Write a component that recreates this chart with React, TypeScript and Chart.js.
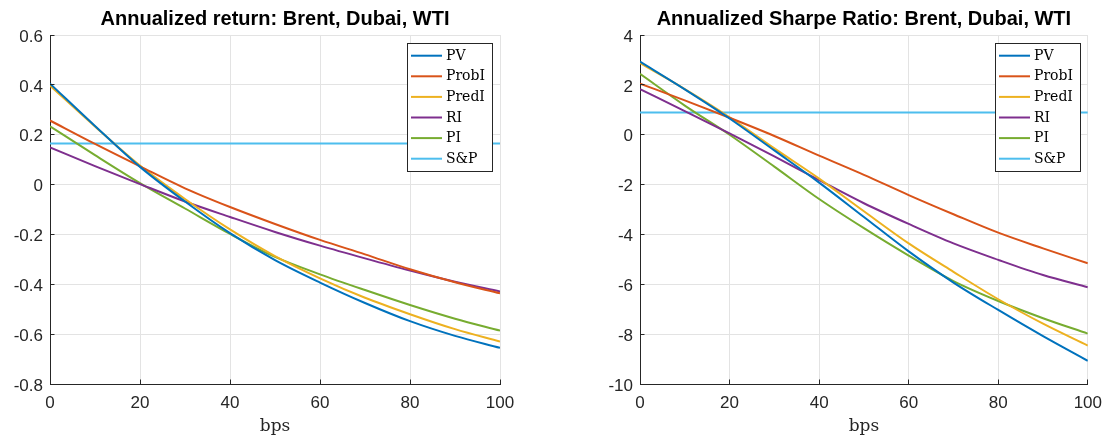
import React, { useEffect, useRef } from "react";
import { Chart, registerables } from "chart.js";

Chart.register(...registerables);

// ---- data ----
const BPS = [0, 10, 20, 30, 40, 50, 60, 70, 80, 90, 100];
const SP_BPS = [0, 100];

const SERIES_LABELS = ["PV", "ProbI", "PredI", "RI", "PI", "S&P"];
const SERIES_COLORS = ["#0072BD", "#D95319", "#EDB120", "#7E2F8E", "#77AC30", "#4DBEEE"];

const RETURN_PV = [0.405, 0.235, 0.071, -0.068, -0.195, -0.303, -0.393, -0.475, -0.548, -0.607, -0.655];
const RETURN_PROBI = [0.257, 0.163, 0.073, -0.015, -0.09, -0.158, -0.222, -0.28, -0.34, -0.392, -0.436];
const RETURN_PREDI = [0.397, 0.233, 0.076, -0.058, -0.18, -0.287, -0.376, -0.454, -0.52, -0.58, -0.63];
const RETURN_RI = [0.149, 0.074, 0.002, -0.068, -0.13, -0.19, -0.245, -0.296, -0.345, -0.39, -0.429];
const RETURN_PI = [0.234, 0.118, 0.006, -0.096, -0.198, -0.29, -0.36, -0.423, -0.483, -0.538, -0.586];
const RETURN_SP = [0.165, 0.165];

const SHARPE_PV = [2.93, 1.82, 0.65, -0.63, -1.92, -3.3, -4.68, -5.93, -7.03, -8.08, -9.07];
const SHARPE_PROBI = [2.05, 1.38, 0.68, -0.05, -0.84, -1.61, -2.42, -3.19, -3.93, -4.56, -5.16];
const SHARPE_PREDI = [2.87, 1.83, 0.7, -0.55, -1.76, -3.07, -4.36, -5.5, -6.6, -7.58, -8.46];
const SHARPE_RI = [1.83, 0.95, 0.05, -0.87, -1.82, -2.75, -3.58, -4.36, -5.02, -5.63, -6.12];
const SHARPE_PI = [2.44, 1.17, 0.0, -1.28, -2.58, -3.75, -4.85, -5.87, -6.67, -7.36, -7.98];
const SHARPE_SP = [0.89, 0.89];

const X_TICKS = [0, 20, 40, 60, 80, 100];
const RETURN_Y_TICKS = [-0.8, -0.6, -0.4, -0.2, 0, 0.2, 0.4, 0.6];
const SHARPE_Y_TICKS = [-10, -8, -6, -4, -2, 0, 2, 4];

const RETURN_TITLE = "Annualized return: Brent, Dubai, WTI";
const SHARPE_TITLE = "Annualized Sharpe Ratio: Brent, Dubai, WTI";
const X_LABEL = "bps";

// ---- styling ----
const SANS = '"Liberation Sans", Arial, Helvetica, sans-serif';
const SERIF = '"DejaVu Serif", "Liberation Serif", serif';
const AXIS_COLOR = "#262626";
const GRID_COLOR = "#e3e3e3";

function align(p: number) {
  return Math.round(p - 0.5) + 0.5;
}

function decorPlugin(title: string) {
  return {
    id: "decor",
    afterDraw(chart: any) {
      const ctx = chart.ctx as CanvasRenderingContext2D;
      const area = chart.chartArea;
      const xs = chart.scales.x;
      const ys = chart.scales.y;
      ctx.save();

      // inward tick marks
      ctx.strokeStyle = AXIS_COLOR;
      ctx.lineWidth = 1;
      ctx.beginPath();
      xs.ticks.forEach((t: any) => {
        const px = align(xs.getPixelForValue(t.value));
        ctx.moveTo(px, area.bottom);
        ctx.lineTo(px, area.bottom - 4.5);
      });
      ys.ticks.forEach((t: any) => {
        const py = align(ys.getPixelForValue(t.value));
        ctx.moveTo(area.left, py);
        ctx.lineTo(area.left + 4.5, py);
      });
      ctx.stroke();

      // title
      ctx.fillStyle = "#000";
      ctx.font = `bold 20px ${SANS}`;
      ctx.textAlign = "center";
      ctx.textBaseline = "alphabetic";
      ctx.fillText(title, (area.left + area.right) / 2, 25);

      // x label
      ctx.fillStyle = AXIS_COLOR;
      ctx.font = `17px ${SERIF}`;
      ctx.fillText(X_LABEL, (area.left + area.right) / 2, 431);

      // legend
      const w = 85;
      const h = 128;
      const bx = Math.round(area.right - 8 - w);
      const by = Math.round(area.top + 8);
      ctx.fillStyle = "#fff";
      ctx.fillRect(bx, by, w, h);
      ctx.strokeStyle = AXIS_COLOR;
      ctx.lineWidth = 1;
      ctx.strokeRect(bx + 0.5, by + 0.5, w, h);
      ctx.font = `14px ${SERIF}`;
      ctx.textAlign = "left";
      ctx.textBaseline = "middle";
      chart.data.datasets.forEach((ds: any, i: number) => {
        const cy = by + 12.7 + i * 20.6;
        ctx.strokeStyle = ds.borderColor;
        ctx.lineWidth = 2;
        ctx.beginPath();
        ctx.moveTo(bx + 4, cy);
        ctx.lineTo(bx + 35, cy);
        ctx.stroke();
        ctx.fillStyle = "#000";
        ctx.fillText(ds.label, bx + 39, cy + 0.5);
      });
      ctx.restore();
    },
  };
}

function makeConfig(
  title: string,
  series: { x: number[]; y: number[] }[],
  yTicks: number[],
  padRight: number
): any {
  const yMin = Math.min(...yTicks);
  const yMax = Math.max(...yTicks);
  const yStep = yTicks[1] - yTicks[0];
  return {
    type: "line",
    data: {
      datasets: series.map((s, i) => ({
        label: SERIES_LABELS[i],
        data: s.x.map((x, j) => ({ x, y: s.y[j] })),
        borderColor: SERIES_COLORS[i],
        backgroundColor: SERIES_COLORS[i],
        borderWidth: 2,
        pointRadius: 0,
        fill: false,
        cubicInterpolationMode: "monotone",
      })),
    },
    options: {
      animation: false,
      responsive: false,
      maintainAspectRatio: false,
      devicePixelRatio: 1,
      events: [],
      layout: { padding: { top: 35, right: padRight, bottom: 0, left: 0 } },
      plugins: {
        legend: { display: false },
        title: { display: false },
        tooltip: { enabled: false },
      },
      scales: {
        x: {
          type: "linear",
          min: X_TICKS[0],
          max: X_TICKS[X_TICKS.length - 1],
          afterBuildTicks: (s: any) => {
            s.ticks = X_TICKS.map((v) => ({ value: v }));
          },
          grid: { color: GRID_COLOR, drawTicks: false, lineWidth: 1 },
          border: { display: true, color: AXIS_COLOR, width: 1 },
          ticks: {
            padding: 9,
            color: AXIS_COLOR,
            font: { family: SANS, size: 17 },
            maxRotation: 0,
            autoSkip: false,
            callback: (v: any) => String(v),
          },
          afterFit: (s: any) => {
            s.height = 55;
          },
        },
        y: {
          type: "linear",
          min: yMin,
          max: yMax,
          afterBuildTicks: (s: any) => {
            s.ticks = yTicks.map((v) => ({ value: v }));
          },
          grid: { color: GRID_COLOR, drawTicks: false, lineWidth: 1 },
          border: { display: true, color: AXIS_COLOR, width: 1 },
          ticks: {
            padding: 7,
            labelOffset: 2,
            stepSize: yStep,
            color: AXIS_COLOR,
            font: { family: SANS, size: 17 },
            autoSkip: false,
            callback: (v: any) => String(Math.round(Number(v) * 10) / 10),
          },
          afterFit: (s: any) => {
            s.width = 50;
          },
        },
      },
    },
    plugins: [decorPlugin(title)],
  };
}

function Panel(props: {
  left: number;
  width: number;
  padRight: number;
  title: string;
  series: { x: number[]; y: number[] }[];
  yTicks: number[];
}) {
  const ref = useRef<HTMLCanvasElement | null>(null);
  useEffect(() => {
    if (!ref.current) return;
    const chart = new Chart(ref.current, makeConfig(props.title, props.series, props.yTicks, props.padRight));
    return () => chart.destroy();
  }, []);
  return (
    <canvas
      ref={ref}
      width={props.width}
      height={439}
      style={{ position: "absolute", left: props.left, top: 0, width: props.width, height: 439 }}
    />
  );
}

export default function App() {
  const returnSeries = [
    { x: BPS, y: RETURN_PV },
    { x: BPS, y: RETURN_PROBI },
    { x: BPS, y: RETURN_PREDI },
    { x: BPS, y: RETURN_RI },
    { x: BPS, y: RETURN_PI },
    { x: SP_BPS, y: RETURN_SP },
  ];
  const sharpeSeries = [
    { x: BPS, y: SHARPE_PV },
    { x: BPS, y: SHARPE_PROBI },
    { x: BPS, y: SHARPE_PREDI },
    { x: BPS, y: SHARPE_RI },
    { x: BPS, y: SHARPE_PI },
    { x: SP_BPS, y: SHARPE_SP },
  ];
  return (
    <div
      style={{
        position: "fixed",
        left: 0,
        top: 0,
        width: 1111,
        height: 439,
        background: "#fff",
        overflow: "hidden",
      }}
    >
      <Panel left={0} width={560} padRight={60} title={RETURN_TITLE} series={returnSeries} yTicks={RETURN_Y_TICKS} />
      <Panel left={590} width={521} padRight={21} title={SHARPE_TITLE} series={sharpeSeries} yTicks={SHARPE_Y_TICKS} />
    </div>
  );
}
